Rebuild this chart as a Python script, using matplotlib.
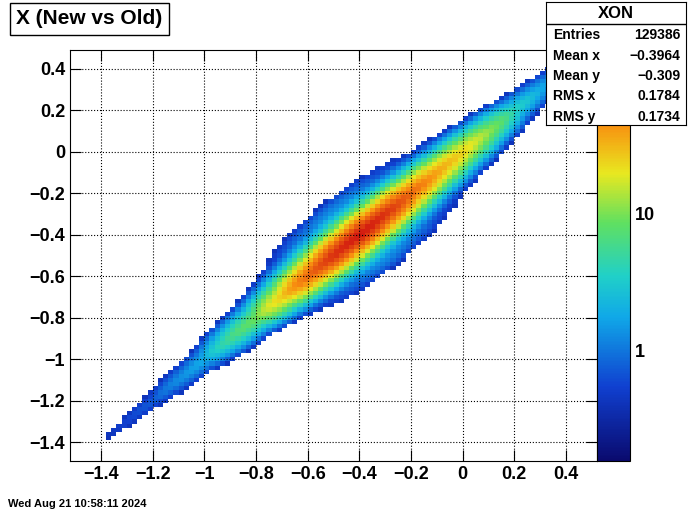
import numpy as np
import matplotlib
matplotlib.use("Agg")
import matplotlib.pyplot as plt
from matplotlib.colors import LinearSegmentedColormap, LogNorm

# along-diagonal profile (u=(x+y)/2) of peak counts per bin
u_pos = [-1.5, -1.4, -1.2, -1.0, -0.8, -0.7, -0.6, -0.5, -0.4, -0.3, -0.2, -0.1, 0.0, 0.1, 0.2, 0.3, 0.4, 0.5]
u_cnt = [0.2, 0.4, 0.8, 2.0, 10, 28, 70, 120, 155, 120, 70, 40, 25, 12, 4, 2, 1, 0.5]
# perpendicular relative profile (v = y - x)
v_pos = [0.0, 0.04, 0.08, 0.12, 0.16, 0.2, 0.3, 0.4, 0.6]
v_rel = [1.0, 0.6, 0.25, 0.08, 0.025, 0.01, 0.002, 0.0005, 0.0001]

stats_labels = ["Entries", "Mean x", "Mean y", "RMS x", "RMS y"]
stats_values = ["129386", "\u22120.3964", "\u22120.309", "0.1784", "0.1734"]
title = "X (New vs Old)"
stats_title = "XON"
date_text = "Wed Aug 21 10:58:11 2024"

xe = np.arange(-1.52, 0.5301, 0.02)
ye = np.arange(-1.49, 0.5001, 0.02)
xc = (xe[:-1] + xe[1:]) / 2
yc = (ye[:-1] + ye[1:]) / 2
X, Y = np.meshgrid(xc, yc)
U = (X + Y) / 2
V = np.abs(Y - X)
Z = np.interp(U, u_pos, u_cnt) * np.interp(V, v_pos, v_rel)
Z = np.where(Z < 0.4, np.nan, Z)

cmap = LinearSegmentedColormap.from_list("root", [
    (0.0, "#0a0a6e"), (0.18, "#1040d0"), (0.35, "#10a8e8"), (0.45, "#20d0c8"),
    (0.58, "#60e060"), (0.7, "#e8e820"), (0.82, "#f89010"), (1.0, "#d01010")])

fig = plt.figure(figsize=(7, 5.14), dpi=100)
W, H = 700, 514
ax = fig.add_axes([70/W, 1-461/H, 527/W, 411/H])
norm = LogNorm(vmin=0.155, vmax=155)
mesh = ax.pcolormesh(xe, ye, Z, cmap=cmap, norm=norm)
ax.set_xlim(xe[0], xe[-1]); ax.set_ylim(ye[0], ye[-1])
ticks = np.round(np.arange(-1.4, 0.41, 0.2), 1)
ax.set_xticks(ticks); ax.set_yticks(ticks)
lab = [("\u2212%g" % -t if t < -0.01 else "%g" % abs(t)) for t in ticks]
ax.set_xticklabels(lab, fontsize=13, fontweight="bold", family="Liberation Sans")
ax.set_yticklabels(lab, fontsize=13, fontweight="bold", family="Liberation Sans")
ax.tick_params(direction="in", top=True, right=True, length=8)
ax.grid(True, color="black", linestyle=":", linewidth=0.8)

cax = fig.add_axes([597/W, 1-461/H, 33/W, 411/H])
cb = fig.colorbar(mesh, cax=cax)
cb.set_ticks([1, 10]); cb.set_ticklabels(["1", "10"])
cax.tick_params(labelsize=13, direction="in", length=0)
for t in cax.get_yticklabels():
    t.set_fontweight("bold"); t.set_family("Liberation Sans")
cax.yaxis.set_minor_locator(matplotlib.ticker.NullLocator())

fig.text(16/W, 1-19/H, title, fontsize=15, fontweight="bold", family="Liberation Sans",
         va="center", ha="left",
         bbox=dict(boxstyle="square,pad=0.3", fc="white", ec="black", lw=1))
fig.text(8/W, 1-504/H, date_text, fontsize=8, fontweight="bold", family="Liberation Sans", va="center")

sax = fig.add_axes([546/W, 1-125/H, 140/W, 123/H])
sax.set_xticks([]); sax.set_yticks([])
sax.set_xlim(0, 1); sax.set_ylim(0, 1)
sax.axhline(1 - 22/123, color="black", lw=1)
sax.text(0.5, 1 - 11/123, stats_title, ha="center", va="center", fontsize=12, fontweight="bold", family="Liberation Sans")
for i, (l, v) in enumerate(zip(stats_labels, stats_values)):
    yy = 1 - (33 + i * 20.5) / 123
    sax.text(0.05, yy, l, ha="left", va="center", fontsize=10, fontweight="bold", family="Liberation Sans")
    sax.text(0.96, yy, v, ha="right", va="center", fontsize=10, fontweight="bold", family="Liberation Sans")

fig.savefig("out.png", dpi=100)
